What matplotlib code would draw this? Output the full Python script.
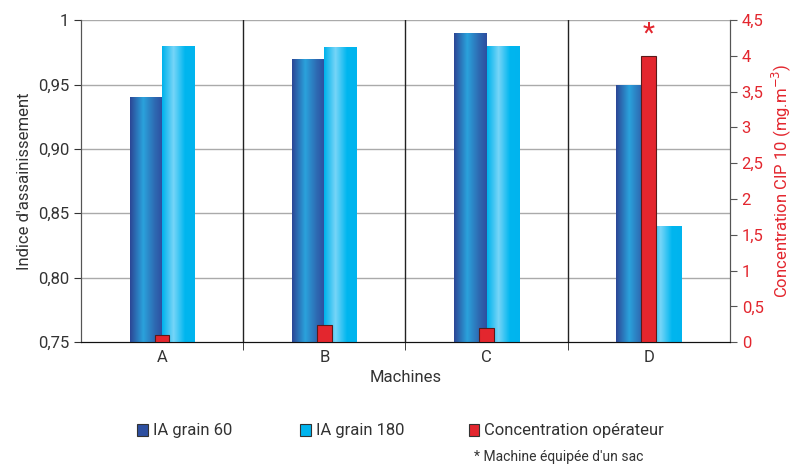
import numpy as np
import matplotlib.pyplot as plt
from matplotlib.colors import LinearSegmentedColormap

plt.rcParams['font.family'] = ['Roboto', 'DejaVu Sans']

machines = ["A", "B", "C", "D"]
ia_60 = [0.94, 0.97, 0.99, 0.95]
ia_180 = [0.98, 0.979, 0.98, 0.84]
conc = [0.1, 0.24, 0.2, 4.0]
left_ticks = [0.75, 0.80, 0.85, 0.90, 0.95, 1.0]
left_labels = ["0,75", "0,80", "0,85", "0,90", "0,95", "1"]
right_ticks = [0, 0.5, 1, 1.5, 2, 2.5, 3, 3.5, 4, 4.5]
right_labels = ["0", "0,5", "1", "1,5", "2", "2,5", "3", "3,5", "4", "4,5"]

RED = "#e3262e"
dark_cmap = LinearSegmentedColormap.from_list("dark", [(0, "#2c4796"), (0.4, "#2aa2dc"), (0.75, "#2e6bb3"), (1, "#2d4fa0")])
light_cmap = LinearSegmentedColormap.from_list("light", [(0, "#00b3ec"), (0.35, "#76d5f8"), (0.7, "#00b6ef"), (1, "#00b4ee")])

fig = plt.figure(figsize=(8.03, 4.68), dpi=100)
ax = fig.add_axes([0.1009, 0.269, 0.808, 0.688])
ax2 = ax.twinx()

x = np.arange(len(machines))
w = 0.2
grad = np.linspace(0, 1, 64).reshape(1, -1)


def gradient_bars(axis, xs, vals, cmap, base):
    bars = axis.bar(xs, np.array(vals) - base, w, bottom=base, color="none", zorder=3)
    for b in bars:
        x0, y0 = b.get_x(), b.get_y()
        im = axis.imshow(grad, cmap=cmap, aspect="auto", zorder=3,
                         extent=[x0, x0 + b.get_width(), y0, y0 + b.get_height()])
        im.set_clip_path(b)
    return bars


gradient_bars(ax, x - w / 2, ia_60, dark_cmap, 0.75)
gradient_bars(ax, x + w / 2, ia_180, light_cmap, 0.75)
ax.set_xlim(-0.5, 3.5)
ax.set_ylim(0.75, 1.0)

for y in left_ticks[1:]:
    ax.axhline(y, color="#aaaaaa", lw=1, zorder=1)
for s in [0.5, 1.5, 2.5]:
    ax.axvline(s, color="#222222", lw=1, zorder=2)

ax2.bar(x, conc, 0.09, color=RED, edgecolor="#5a1a1a", lw=0.8, zorder=4)
ax2.set_ylim(0, 4.5)
ax2.text(x[3], 4.3, "*", color=RED, fontsize=20, ha="center", va="center")

ax.set_yticks(left_ticks)
ax.set_yticklabels(left_labels)
ax.set_xticks(x)
ax.set_xticklabels(machines)
ax.set_xticks([0.5, 1.5, 2.5], minor=True)
ax.tick_params(axis="x", which="major", length=0, labelsize=12, colors="#333333", pad=6)
ax.tick_params(axis="x", which="minor", length=6, color="#222222")
ax.tick_params(axis="y", length=5, labelsize=12, colors="#333333")
ax2.set_yticks(right_ticks)
ax2.set_yticklabels(right_labels)
ax2.tick_params(axis="y", length=5, labelsize=12, colors=RED, color="#555555")

for a in (ax, ax2):
    a.spines["top"].set_visible(False)
    a.spines["left"].set_color("#555555")
    a.spines["right"].set_color("#555555")
    a.spines["bottom"].set_color("#111111")

ax.set_xlabel("Machines", fontsize=12, color="#333333", labelpad=3)
ax.set_ylabel("Indice d'assainissement", fontsize=12, color="#333333")
ax2.set_ylabel("Concentration CIP 10 (mg.m$^{-3}$)", fontsize=12, color=RED)

# legend
items = [("IA grain 60", "#2d4fa0", 0.171), ("IA grain 180", "#00b4ee", 0.374),
         ("Concentration opérateur", RED, 0.584)]
for label, c, xf in items:
    fig.patches.append(plt.Rectangle((xf, 0.068), 0.013, 0.026, transform=fig.transFigure,
                                     facecolor=c, edgecolor="#333333", lw=0.8))
    fig.text(xf + 0.019, 0.081, label, fontsize=12, color="#333333", va="center")
fig.text(0.59, 0.016, "* Machine équipée d'un sac", fontsize=10, color="#333333")

fig.savefig("out.png", dpi=100)
